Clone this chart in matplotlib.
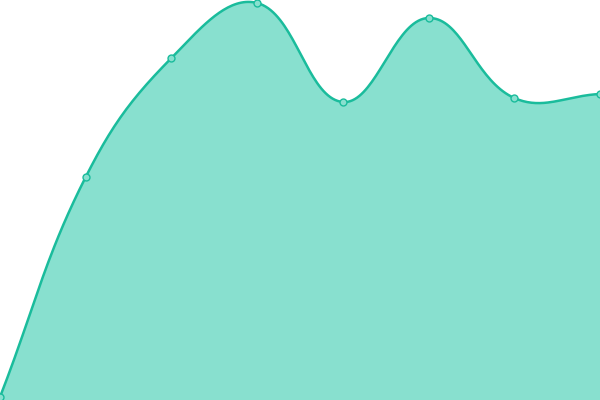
import numpy as np
import matplotlib
matplotlib.use('Agg')
import matplotlib.pyplot as plt

# values (pixel height above the bottom edge, 0..400)
labels = ['A', 'B', 'C', 'D', 'E', 'F', 'G', 'H']
values = [3, 223, 342, 397, 298, 382, 302, 306]

LINE = '#1abc9c'
FILL = '#88e0cf'
W, H = 600, 400
TENSION = 0.4


def spline_path(xs, ys, t=TENSION, n=40):
    # chart.js style bezier smoothing, done in pixel units
    pts = np.column_stack([xs, ys]).astype(float)
    k = len(pts)
    ctrl = []
    for i in range(k):
        prev = pts[max(i - 1, 0)]
        cur = pts[i]
        nxt = pts[min(i + 1, k - 1)]
        d01 = np.hypot(*(cur - prev))
        d12 = np.hypot(*(nxt - cur))
        s = d01 + d12
        s01 = d01 / s if s else 0
        s12 = d12 / s if s else 0
        fa, fb = t * s01, t * s12
        ctrl.append((cur - fa * (nxt - prev), cur + fb * (nxt - prev)))
    out = [pts[0:1]]
    tt = np.linspace(0, 1, n)[1:, None]
    for i in range(k - 1):
        p0, p3 = pts[i], pts[i + 1]
        p1, p2 = ctrl[i][1], ctrl[i + 1][0]
        seg = ((1 - tt) ** 3 * p0 + 3 * (1 - tt) ** 2 * tt * p1
               + 3 * (1 - tt) * tt ** 2 * p2 + tt ** 3 * p3)
        out.append(seg)
    c = np.vstack(out)
    return c[:, 0], c[:, 1]


x = np.arange(len(values)) * W / (len(values) - 1)
y = np.array(values, dtype=float)
cx, cy = spline_path(x, y)
cy = np.clip(cy, 0, H)

fig = plt.figure(figsize=(6, 4), dpi=100)
ax = fig.add_axes([0, 0, 1, 1])
ax.fill_between(cx, 0, cy, color=FILL, lw=0)
ax.plot(cx, cy, color=LINE, lw=1.8, solid_capstyle='round')
ax.plot(x, y, 'o', ms=5, mfc=FILL, mec=LINE, mew=1)
ax.set_xlim(0, W); ax.set_ylim(0, H)
ax.axis('off')
fig.savefig('out.png', dpi=100)
